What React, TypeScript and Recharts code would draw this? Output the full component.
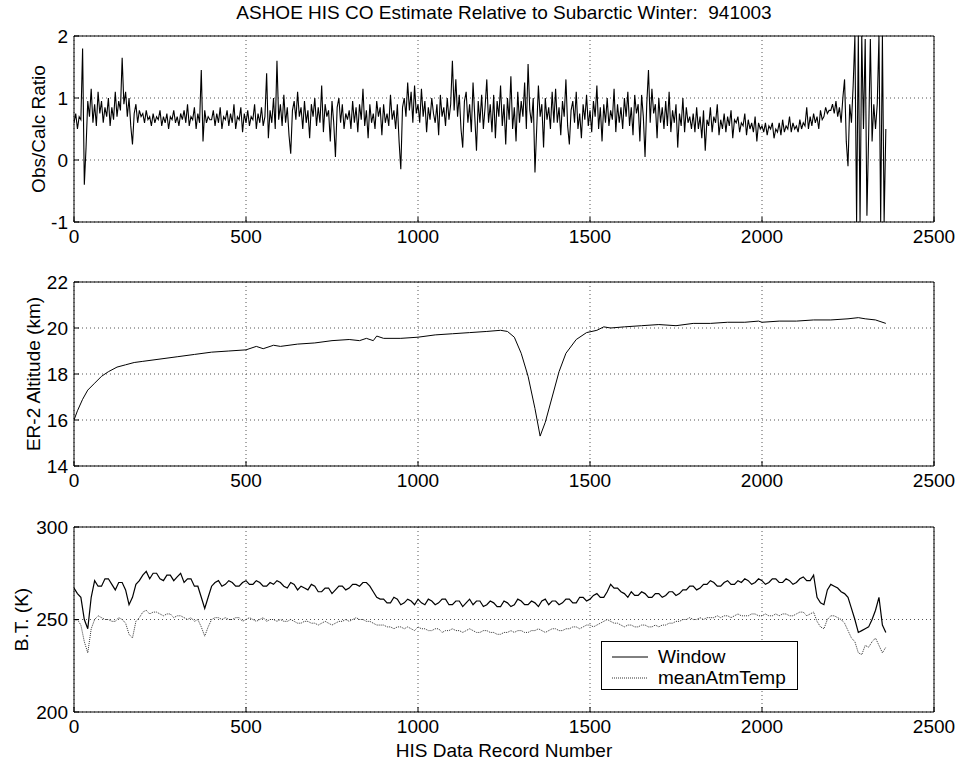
import { LineChart, Line, XAxis, YAxis, CartesianGrid, ReferenceArea, Label } from "recharts";

// record numbers are spaced evenly in each series
const RATIO_STEP = 5;
const BT_STEP = 10;

const xTicks = [0, 500, 1000, 1500, 2000, 2500];

// Obs/Calc ratio, one value every 5 records (0..2360), 40 per row = 200 records
const ratioValues = [
  0.6, 0.75, 0.5, 0.7, 0.65, 1.8, -0.4, 0.2, 0.95, 0.7, 1.15, 0.6, 0.9, 0.55, 1.1, 0.75, 0.95, 0.6, 0.85, 0.7,
  1.0, 0.55, 0.85, 0.65, 1.1, 0.7, 0.95, 0.8, 1.65, 0.9, 1.1, 0.7, 1.0, 0.55, 0.25, 0.75, 0.9, 0.6, 0.8, 0.7,
  0.75, 0.6, 0.8, 0.65, 0.7, 0.55, 0.75, 0.6, 0.7, 0.65, 0.8, 0.55, 0.7, 0.6, 0.75, 0.5, 0.7, 0.65, 0.8, 0.6,
  0.7, 0.55, 0.75, 0.65, 0.8, 0.6, 0.9, 0.55, 0.7, 0.65, 0.85, 0.5, 0.75, 0.6, 1.45, 0.3, 0.8, 0.6, 0.7, 0.65,
  0.65, 0.8, 0.55, 0.75, 0.6, 0.85, 0.5, 0.7, 0.65, 0.8, 0.55, 0.75, 0.6, 0.9, 0.5, 0.7, 0.65, 0.85, 0.45, 0.75,
  0.6, 0.8, 0.55, 0.7, 0.65, 0.9, 0.5, 0.75, 0.6, 0.85, 0.55, 0.7, 1.4, 0.35, 0.8, 0.6, 1.0, 0.5, 1.6, 0.65,
  0.9, 0.55, 1.05, 0.6, 0.85, 0.4, 0.1, 0.8, 0.95, 0.65, 1.1, 0.7, 0.85, 0.5, 0.95, 0.6, 0.8, 0.35, 0.9, 0.7,
  1.0, 0.55, 0.85, 0.6, 1.2, 0.45, 0.9, 0.7, 0.8, 0.3, 0.95, 0.6, 0.05, 0.85, 1.0, 0.6, 0.9, 0.5, 0.75, 0.65,
  0.8, 0.5, 0.95, 0.6, 0.85, 0.45, 0.9, 0.65, 1.15, 0.55, 0.8, 0.35, 0.9, 0.6, 0.75, 0.5, 0.95, 0.7, 0.85, 0.4,
  0.9, 0.6, 0.75, 0.55, 1.05, 0.65, 0.8, 0.5, 0.9, 0.3, -0.15, 0.85, 1.0, 0.7, 1.25, 0.8, 1.1, 0.6, 1.2, 0.75,
  0.9, 0.6, 1.15, 0.7, 0.95, 0.45, 0.85, 0.65, 1.0, 0.75, 0.6, 0.9, 0.4, 1.05, 0.7, 0.85, 0.55, 1.0, 0.65, 0.9,
  1.6, 0.8, 1.3, 0.7, 1.05, 0.5, 0.2, 0.95, 1.1, 0.6, 0.9, 0.45, 1.25, 0.7, 0.15, 0.95, 0.6, 1.05, 0.5, 0.85,
  1.3, 0.6, 0.9, 0.45, 1.05, 0.35, 0.95, 0.7, 1.2, 0.55, 0.9, 0.25, 1.0, 0.65, 1.35, 0.5, 0.85, 0.3, 1.1, 0.6,
  0.95, 0.7, 1.25, 0.5, 1.55, 0.8, 0.6, 1.0, -0.2, 0.5, 1.2, 0.7, 0.9, 0.2, 1.0, 0.65, 0.85, 0.5, 1.1, 0.6,
  1.15, 0.6, 0.85, 0.4, 0.95, 0.7, 1.3, 0.55, 0.25, 0.8, 0.95, 0.6, 1.1, 0.5, 0.75, 0.35, 0.9, 0.65, 1.05, 0.55,
  0.8, 0.45, 0.95, 0.7, 1.2, 0.5, 0.85, 0.3, 0.9, 0.6, 1.0, 0.55, 0.8, 0.65, 1.15, 0.45, 0.9, 0.6, 0.85, 0.5,
  1.0, 0.7, 1.1, 0.55, 0.85, 0.4, 1.05, 0.75, 0.9, 0.3, 1.05, 0.7, 0.05, 0.9, 1.45, 0.6, 1.15, 0.75, 0.9, 0.35,
  1.0, 0.6, 0.85, 0.5, 0.95, 0.55, 1.1, 0.45, 0.8, 0.6, 0.9, 0.2, 0.75, 0.55, 1.0, 0.45, 0.85, 0.6, 0.7, 0.5,
  0.75, 0.45, 0.85, 0.5, 0.7, 0.35, 0.8, 0.15, 0.65, 0.55, 0.85, 0.45, 0.7, 0.6, 0.9, 0.4, 0.65, 0.5, 0.75, 0.45,
  0.7, 0.55, 0.8, 0.35, 0.65, 0.6, 0.7, 0.45, 0.6, 0.55, 0.75, 0.4, 0.65, 0.5, 0.6, 0.45, 0.7, 0.3, 0.6, 0.5,
  0.55, 0.45, 0.6, 0.4, 0.55, 0.5, 0.6, 0.35, 0.5, 0.45, 0.6, 0.4, 0.65, 0.45, 0.55, 0.5, 0.7, 0.45, 0.6, 0.5,
  0.55, 0.45, 0.65, 0.5, 0.6, 0.55, 0.85, 0.5, 0.7, 0.55, 0.75, 0.6, 0.7, 0.5, 0.8, 0.65, 0.7, 0.85, 0.75, 0.8,
  0.8, 0.9, 0.75, 0.95, 0.7, 0.85, 0.6, 1.0, 1.3, 0.3, -0.1, 0.9, 0.6, 1.2, 2.0, -1.0, 2.0, -1.0, 2.0, 0.5,
  1.95, -0.9, 0.4, 1.95, 0.3, 0.9, 0.5, 0.9, 2.0, -1.0, 2.0, -1.0, 0.5,
];

// ER-2 altitude
const altRecord = [
  0, 10, 25, 40, 60, 80, 100, 125, 150, 175, 200, 250, 300, 350, 400, 450, 500, 530, 550, 580,
  600, 650, 700, 750, 800, 830, 850, 870, 880, 900, 950, 1000, 1050, 1100, 1150, 1200, 1240, 1260, 1280, 1300,
  1320, 1340, 1355, 1370, 1390, 1410, 1430, 1460, 1490, 1520, 1540, 1560, 1600, 1650, 1700, 1750, 1800, 1850, 1900, 1950,
  1990, 2000, 2050, 2100, 2150, 2200, 2250, 2280, 2300, 2330, 2360,
];
const altKm = [
  16.0, 16.4, 16.9, 17.3, 17.6, 17.9, 18.1, 18.3, 18.4, 18.5, 18.55, 18.65, 18.75, 18.85, 18.95, 19.0, 19.05, 19.2, 19.1, 19.25,
  19.2, 19.3, 19.35, 19.45, 19.5, 19.45, 19.55, 19.45, 19.65, 19.55, 19.55, 19.6, 19.7, 19.75, 19.8, 19.85, 19.9, 19.85, 19.6, 18.9,
  17.9, 16.5, 15.3, 15.9, 17.0, 18.1, 18.9, 19.5, 19.8, 19.9, 20.05, 20.0, 20.05, 20.1, 20.15, 20.1, 20.2, 20.2, 20.25, 20.25,
  20.3, 20.25, 20.3, 20.3, 20.35, 20.35, 20.4, 20.45, 20.4, 20.35, 20.2,
];

// brightness temperatures, one value every 10 records, 20 per row = 200 records
const windowBT = [
  267, 264, 262, 250, 245, 262, 271, 268, 268, 272, 272, 269, 266, 270, 270, 266, 258, 262, 269, 271,
  274, 276, 272, 275, 275, 272, 271, 274, 274, 271, 273, 275, 270, 272, 272, 268, 268, 262, 256, 262,
  268, 270, 271, 268, 269, 271, 270, 268, 268, 270, 271, 269, 269, 271, 270, 268, 268, 270, 269, 271,
  270, 268, 267, 270, 269, 266, 268, 267, 266, 269, 268, 265, 265, 267, 267, 264, 266, 268, 268, 266,
  267, 269, 269, 268, 270, 270, 268, 265, 262, 261, 261, 259, 259, 262, 261, 258, 259, 261, 260, 258,
  261, 259, 258, 261, 260, 258, 259, 261, 261, 258, 258, 260, 260, 257, 259, 261, 258, 260, 260, 257,
  258, 260, 259, 257, 257, 260, 259, 257, 258, 261, 260, 258, 258, 260, 259, 257, 260, 261, 258, 260,
  260, 258, 259, 261, 261, 259, 259, 262, 262, 260, 261, 263, 264, 262, 262, 265, 269, 267, 267, 265,
  264, 262, 265, 263, 263, 265, 264, 262, 262, 264, 264, 262, 263, 265, 265, 263, 264, 266, 266, 268,
  268, 266, 267, 269, 269, 271, 270, 268, 268, 270, 271, 269, 269, 271, 270, 272, 271, 269, 270, 272,
  271, 269, 270, 272, 272, 270, 270, 272, 271, 269, 270, 272, 273, 271, 271, 274, 262, 259, 258, 266,
  269, 268, 267, 265, 264, 262, 256, 250, 243, 244, 245, 246, 250, 255, 262, 247, 243,
];
const meanAtmTemp = [
  249, 250, 247, 238, 232, 245, 250, 252, 251, 250, 250, 249, 249, 251, 250, 248, 242, 240, 249, 251,
  254, 255, 253, 254, 254, 253, 252, 253, 253, 251, 252, 252, 251, 250, 251, 249, 250, 246, 241, 246,
  250, 251, 251, 250, 251, 250, 250, 251, 251, 249, 250, 251, 250, 249, 250, 251, 249, 250, 250, 249,
  250, 249, 249, 250, 249, 248, 248, 249, 249, 248, 248, 247, 248, 249, 248, 247, 248, 249, 249, 250,
  249, 250, 251, 250, 250, 249, 249, 248, 247, 247, 247, 246, 246, 245, 246, 246, 245, 246, 245, 244,
  246, 245, 245, 244, 244, 245, 245, 243, 244, 244, 245, 244, 244, 243, 244, 245, 244, 243, 243, 244,
  244, 243, 243, 242, 242, 243, 243, 244, 243, 244, 244, 243, 243, 244, 244, 245, 244, 243, 244, 245,
  245, 244, 244, 245, 245, 246, 246, 245, 246, 247, 247, 246, 247, 248, 249, 250, 249, 248, 248, 247,
  246, 247, 247, 246, 246, 247, 247, 246, 246, 247, 246, 247, 247, 248, 248, 249, 249, 250, 250, 251,
  250, 250, 251, 250, 251, 251, 251, 252, 251, 252, 252, 251, 252, 253, 252, 252, 252, 253, 253, 252,
  252, 253, 252, 252, 253, 252, 253, 253, 252, 252, 253, 254, 254, 252, 253, 254, 249, 246, 245, 250,
  252, 252, 251, 250, 248, 244, 240, 238, 232, 231, 236, 235, 238, 240, 236, 232, 235,
];

const ratioData = ratioValues.map((v, i) => ({ rec: i * RATIO_STEP, ratio: v }));
const altData = altRecord.map((r, i) => ({ rec: r, alt: altKm[i] }));
const btData = windowBT.map((w, i) => ({ rec: i * BT_STEP, win: w, atm: meanAtmTemp[i] }));

const FONT = "'Liberation Sans', Arial, sans-serif";
const tickStyle = { fontSize: 19, fill: "#000", fontFamily: FONT };

const yLabel = (text: string, x: number) => (props: any) => {
  const vb = props && props.viewBox;
  const cy = vb && vb.height ? vb.y + vb.height / 2 : 0;
  return (
    <text
      x={x}
      y={cy}
      transform={`rotate(-90 ${x} ${cy})`}
      textAnchor="middle"
      fontSize={19}
      fontFamily={FONT}
      fill="#000"
    >
      {text}
    </text>
  );
};

function Panel(props: {
  top: number;
  height: number;
  xAxisHeight: number;
  data: any[];
  yDomain: [number, number];
  yTicks: number[];
  label: string;
  labelX: number;
  children: any;
}) {
  const { top, height, xAxisHeight, data, yDomain, yTicks, label, labelX, children } = props;
  return (
    <div style={{ position: "absolute", left: 0, top }}>
      <LineChart
        width={963}
        height={height}
        data={data}
        margin={{ top: 36, right: 29, left: 30, bottom: 0 }}
      >
        <CartesianGrid strokeDasharray="1 3" stroke="#555" />
        <XAxis
          dataKey="rec"
          type="number"
          domain={[0, 2500]}
          ticks={xTicks}
          allowDataOverflow
          height={xAxisHeight}
          tick={tickStyle}
          tickSize={-5}
          tickLine={{ stroke: "#000" }}
          axisLine={false}
          tickMargin={13}
        />
        {/* mirrored axes: inward tick marks on top and right */}
        <XAxis
          xAxisId="top"
          orientation="top"
          dataKey="rec"
          type="number"
          domain={[0, 2500]}
          ticks={xTicks}
          height={0}
          tick={false}
          tickSize={-5}
          tickLine={{ stroke: "#000" }}
          axisLine={false}
        />
        <YAxis
          type="number"
          domain={yDomain}
          ticks={yTicks}
          allowDataOverflow
          width={44}
          tick={tickStyle}
          tickSize={-5}
          tickLine={{ stroke: "#000" }}
          axisLine={false}
          tickMargin={11}
        >
          <Label content={yLabel(label, labelX)} />
        </YAxis>
        <YAxis
          yAxisId="right"
          orientation="right"
          type="number"
          domain={yDomain}
          ticks={yTicks}
          width={0}
          tick={false}
          tickSize={-5}
          tickLine={{ stroke: "#000" }}
          axisLine={false}
        />
        {children}
        <ReferenceArea
          x1={0}
          x2={2500}
          y1={yDomain[0]}
          y2={yDomain[1]}
          fill="none"
          fillOpacity={0}
          stroke="#000"
          strokeWidth={1}
        />
      </LineChart>
    </div>
  );
}

export default function App() {
  return (
    <div
      style={{
        position: "absolute",
        left: 0,
        top: 0,
        width: 963,
        height: 765,
        background: "#fff",
        fontFamily: FONT,
        color: "#000",
      }}
    >
      {/* Title */}
      <div
        style={{
          position: "absolute",
          left: 0,
          width: 1008,
          top: 2,
          textAlign: "center",
          fontSize: 19,
          whiteSpace: "pre",
        }}
      >
        {"ASHOE HIS CO Estimate Relative to Subarctic Winter:  941003"}
      </div>

      <Panel top={0} height={250} xAxisHeight={28} data={ratioData} yDomain={[-1, 2]} yTicks={[-1, 0, 1, 2]} label="Obs/Calc Ratio" labelX={45}>
        <Line type="linear" dataKey="ratio" stroke="#000" strokeWidth={1.1} dot={false} isAnimationActive={false} />
      </Panel>

      <Panel top={246} height={248} xAxisHeight={28} data={altData} yDomain={[14, 22]} yTicks={[14, 16, 18, 20, 22]} label="ER-2 Altitude (km)" labelX={40}>
        <Line type="linear" dataKey="alt" stroke="#000" strokeWidth={1} dot={false} isAnimationActive={false} />
      </Panel>

      <Panel top={491} height={274} xAxisHeight={53} data={btData} yDomain={[200, 300]} yTicks={[200, 250, 300]} label="B.T. (K)" labelX={28}>
        <Line type="linear" dataKey="win" stroke="#000" strokeWidth={1.2} dot={false} isAnimationActive={false} />
        <Line type="linear" dataKey="atm" stroke="#333" strokeWidth={1} strokeDasharray="1 1" dot={false} isAnimationActive={false} />
      </Panel>

      {/* x axis label */}
      <div style={{ position: "absolute", left: 0, width: 1008, top: 740, textAlign: "center", fontSize: 19 }}>
        HIS Data Record Number
      </div>

      {/* Legend */}
      <div
        style={{
          position: "absolute",
          left: 601,
          top: 641,
          width: 195,
          height: 47,
          border: "1px solid #000",
          background: "#fff",
          fontSize: 19,
        }}
      >
        <div style={{ position: "absolute", left: 10, top: 4, display: "flex", alignItems: "center", height: 22 }}>
          <svg width={36} height={4} style={{ marginRight: 10 }}>
            <line x1={0} y1={2} x2={36} y2={2} stroke="#000" strokeWidth={1} />
          </svg>
          <span>Window</span>
        </div>
        <div style={{ position: "absolute", left: 10, top: 25, display: "flex", alignItems: "center", height: 22 }}>
          <svg width={36} height={4} style={{ marginRight: 10 }}>
            <line x1={0} y1={2} x2={36} y2={2} stroke="#333" strokeWidth={1} strokeDasharray="1 1" />
          </svg>
          <span>meanAtmTemp</span>
        </div>
      </div>
    </div>
  );
}
